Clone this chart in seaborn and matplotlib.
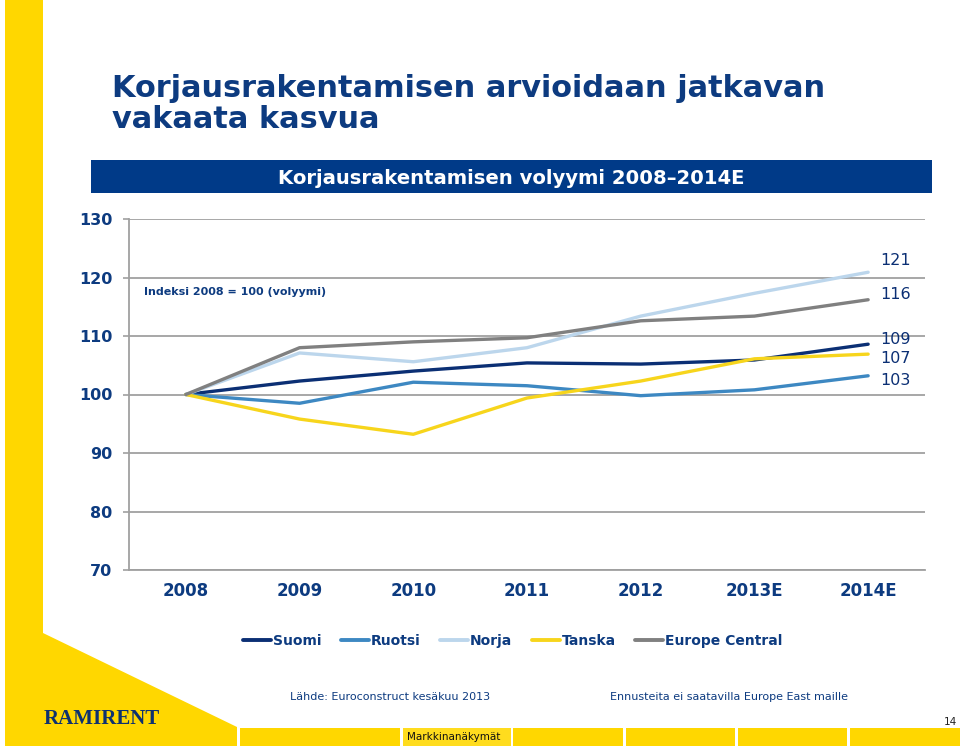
import numpy as np
import pandas as pd
import matplotlib
matplotlib.use("Agg")
import matplotlib.pyplot as plt
from matplotlib.patches import Polygon, Rectangle
import seaborn as sns

# ---------------- data ----------------
years = ["2008", "2009", "2010", "2011", "2012", "2013E", "2014E"]
suomi = [100, 102.3, 104.0, 105.4, 105.2, 105.9, 108.6]
ruotsi = [100, 98.5, 102.1, 101.5, 99.8, 100.8, 103.2]
norja = [100, 107.1, 105.6, 108.0, 113.4, 117.3, 120.9]
tanska = [100, 95.8, 93.2, 99.4, 102.3, 106.1, 106.9]
europe_central = [100, 108.0, 109.0, 109.7, 112.6, 113.4, 116.2]
series_names = ["Suomi", "Ruotsi", "Norja", "Tanska", "Europe Central"]
series_values = [suomi, ruotsi, norja, tanska, europe_central]
y_ticks = [70, 80, 90, 100, 110, 120, 130]

title = "Korjausrakentamisen arvioidaan jatkavan\nvakaata kasvua"
banner = "Korjausrakentamisen volyymi 2008\u20132014E"
index_note = "Indeksi 2008 = 100 (volyymi)"
source_note = "Lähde: Euroconstruct kesäkuu 2013"
forecast_note = "Ennusteita ei saatavilla Europe East maille"
footer = "Markkinanäkymät"
page_no = "14"
logo = "RAMIRENT"

# ---------------- style ----------------
NAVY = "#0d3b80"
YELLOW = "#ffd700"
colors = {"Suomi": "#0b2f74", "Ruotsi": "#3d88c2", "Norja": "#bcd6ec",
          "Tanska": "#f7d51c", "Europe Central": "#808080"}
# vertical label offsets in pixels (positive = up)
label_offsets = {"Norja": 12, "Europe Central": 5, "Suomi": 5,
                 "Tanska": -4, "Ruotsi": -5}

sns.set_theme(style="white")
plt.rcParams["font.family"] = ["DejaVu Sans"]

W, H = 960, 748
fig = plt.figure(figsize=(W / 100, H / 100), dpi=100)


def fx(x):
    return x / W


def fy(y):
    return 1 - y / H


# decorations (yellow shapes)
fig.add_artist(Polygon([(fx(5), fy(0)), (fx(43), fy(0)), (fx(43), fy(633)),
                        (fx(237), fy(727)), (fx(237), fy(746)), (fx(5), fy(746))],
                       closed=True, transform=fig.transFigure,
                       facecolor=YELLOW, edgecolor="none", zorder=0))
for x0, x1 in [(240, 400), (513, 623), (626, 735), (738, 847), (850, 960)]:
    fig.add_artist(Rectangle((fx(x0), fy(746)), fx(x1 - x0), 18 / H,
                             transform=fig.transFigure, facecolor=YELLOW,
                             edgecolor="none", zorder=0))
fig.add_artist(Rectangle((fx(403), fy(746)), fx(108), 18 / H,
                         transform=fig.transFigure, facecolor="#ffdc1e",
                         edgecolor="none", zorder=0))

# banner
fig.add_artist(Rectangle((fx(91), fy(193)), fx(841), 33 / H,
                         transform=fig.transFigure, facecolor="#003a88",
                         edgecolor="none", zorder=0))
fig.text(fx(511), fy(178), banner, color="white", fontsize=14.1,
         fontweight="bold", ha="center", va="center")

# title
fig.text(fx(112), fy(104), title, color=NAVY, fontsize=21.9, fontweight="bold",
         ha="left", va="center", linespacing=1.08)

# ---------------- chart ----------------
rows = []
for name, vals in zip(series_names, series_values):
    for yr, v in zip(years, vals):
        rows.append({"Vuosi": yr, "Indeksi": v, "Maa": name})
df = pd.DataFrame(rows)

ax = fig.add_axes([fx(129), fy(570), fx(925 - 129), (570 - 219) / H])
sns.lineplot(data=df, x="Vuosi", y="Indeksi", hue="Maa",
             hue_order=series_names, palette=colors, sort=False,
             linewidth=2.4, ax=ax, legend=True)

ax.set_xlim(-0.5, len(years) - 0.5)
ax.set_ylim(min(y_ticks), max(y_ticks))
ax.set_yticks(y_ticks)
ax.set_yticklabels([str(t) for t in y_ticks], fontsize=11.5,
                   fontweight="bold", color=NAVY)
ax.set_xticks(range(len(years)))
ax.set_xticklabels(years, fontsize=12, fontweight="bold", color=NAVY)
ax.set_xticks(np.arange(-0.5, len(years), 1.0), minor=True)
ax.tick_params(axis="x", which="major", length=0, pad=9)
ax.tick_params(axis="x", which="minor", length=5, width=1.2,
               color="#a0a0a0", direction="out")
ax.tick_params(axis="y", which="major", length=4, width=1.2,
               color="#a0a0a0", direction="out", pad=8, left=True)
ax.set_xlabel("")
ax.set_ylabel("")
ax.grid(axis="y", color="#a0a0a0", linewidth=1.3)
ax.set_axisbelow(True)
for s in ["top", "right"]:
    ax.spines[s].set_visible(False)
for s in ["left", "bottom"]:
    ax.spines[s].set_color("#a0a0a0")
    ax.spines[s].set_linewidth(1.3)
ax.set_facecolor("none")
ax.patch.set_alpha(0)

# end labels
for name, vals in zip(series_names, series_values):
    ax.annotate(f"{round(vals[-1]):d}", xy=(len(years) - 1, vals[-1]),
                xytext=(19.5, label_offsets[name] * 0.72), textcoords="offset points",
                ha="center", va="center", fontsize=11.5, color="#0b2f74",
                annotation_clip=False)

ax.text(0.019, (570 - 292) / (570 - 219), index_note,
        transform=ax.transAxes, fontsize=8, fontweight="bold", color=NAVY,
        ha="left", va="center")

# legend
handles, labels = ax.get_legend_handles_labels()
ax.get_legend().remove()
for h in handles:
    h.set_linewidth(2.8)
leg = fig.legend(handles, labels, loc="center", bbox_to_anchor=(fx(513), fy(641)),
                 ncol=5, frameon=False, handlelength=2.0, handletextpad=0.15,
                 columnspacing=1.4, prop={"size": 10, "weight": "bold"})
for t in leg.get_texts():
    t.set_color(NAVY)

# notes and footer
fig.text(fx(290), fy(697), source_note, fontsize=8, color=NAVY,
         ha="left", va="center")
fig.text(fx(610), fy(697), forecast_note, fontsize=8, color=NAVY,
         ha="left", va="center")
fig.text(fx(957), fy(722), page_no, fontsize=7.5, color="#222222",
         ha="right", va="center")
fig.text(fx(407), fy(737), footer, fontsize=7.5, color="#111111",
         ha="left", va="center")
fig.text(fx(44), fy(719), logo, fontsize=15, color="#0d3170",
         fontweight="bold", family=["Liberation Serif", "DejaVu Serif"],
         ha="left", va="center")

fig.savefig("out.png", dpi=100, facecolor="white")
